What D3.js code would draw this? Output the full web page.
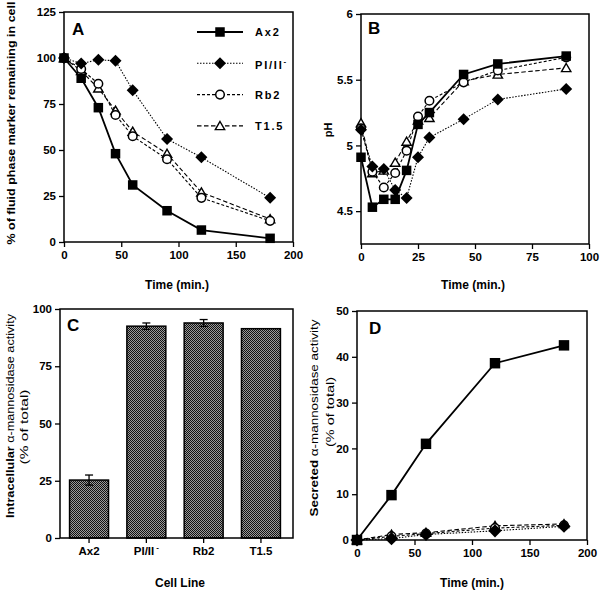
<!DOCTYPE html>
<html>
<head>
<meta charset="utf-8">
<script src="https://cdn.jsdelivr.net/npm/d3@7"></script>
<style>
  body { margin: 0; background: #fff; }
  svg { display: block; font-family: "Liberation Sans", Arial, Helvetica, sans-serif; }
  .tick text { font-size: 11.5px; font-weight: bold; fill: #000; }
  .tick line { stroke: #000; stroke-width: 1.3; }
</style>
</head>
<body>
<svg id="fig" width="602" height="592"></svg>
<script>
// --- panel A: fluid phase marker remaining (%)
const timeA = [0, 15, 30, 45, 60, 90, 120, 180];
const ax2A = [100, 89, 73, 48, 31, 17, 6.5, 2];
const pi2A = [100, 97, 99, 98.5, 82.5, 56, 46, 24];
const rb2A = [100, 94, 86, 69, 57.5, 45, 24, 11.5];
const t15A = [100, 93, 83.5, 71.5, 60, 48, 27, 12.5];

// --- panel B: pH
const timeB = [0, 5, 10, 15, 20, 25, 30, 45, 60, 90];
const ax2B = [4.91, 4.53, 4.59, 4.59, 4.81, 5.16, 5.25, 5.54, 5.62, 5.68];
const pi2B = [5.12, 4.84, 4.82, 4.66, 4.60, 4.91, 5.06, 5.20, 5.35, 5.43];
const rb2B = [5.13, 4.80, 4.68, 4.79, 4.96, 5.22, 5.34, 5.48, 5.57, 5.67];
const t15B = [5.17, 4.79, 4.81, 4.87, 5.03, 5.19, 5.21, 5.49, 5.54, 5.59];

// --- panel C: intracellular alpha-mannosidase
const cellLines = ["Ax2", "PI/II", "Rb2", "T1.5"];
const intracellular = [25.3, 92.5, 93.9, 91.4];
const intracellularErr = [2.2, 1.4, 1.5, 0];

// --- panel D: secreted alpha-mannosidase
const timeD = [0, 30, 60, 120, 180];
const ax2D = [0, 9.8, 21, 38.6, 42.5];
const pi2D = [0, 0.3, 1.2, 2.0, 3.0];
const rb2D = [0, 0.8, 1.4, 2.6, 3.2];
const t15D = [0, 1.2, 1.6, 3.1, 3.5];

const svg = d3.select('#fig');

const styles = {
  ax2: { dash: null, width: 1.8, marker: 'square' },
  pi2: { dash: '1.5,1.5', width: 1.1, marker: 'diamond' },
  rb2: { dash: '3,2', width: 1.1, marker: 'circle' },
  t15: { dash: '4.5,2.5', width: 1.1, marker: 'triangle' }
};

function drawMarker(g, kind, x, y, big) {
  const s = big ? 1.1 : 1;
  if (kind === 'square') {
    const w = 9.5 * s;
    g.append('rect').attr('x', x - w / 2).attr('y', y - w / 2)
      .attr('width', w).attr('height', w).attr('fill', '#000');
  } else if (kind === 'diamond') {
    const r = 6 * s;
    g.append('path').attr('d', `M${x},${y - r}L${x + r},${y}L${x},${y + r}L${x - r},${y}Z`)
      .attr('fill', '#000');
  } else if (kind === 'circle') {
    g.append('circle').attr('cx', x).attr('cy', y).attr('r', 4.3)
      .attr('fill', '#fff').attr('stroke', '#000').attr('stroke-width', 1.5);
  } else {
    g.append('path').attr('d', d3.symbol().type(d3.symbolTriangle).size(38)())
      .attr('transform', `translate(${x},${y + 1})`)
      .attr('fill', '#fff').attr('stroke', '#000').attr('stroke-width', 1.4);
  }
}

function frame(x0, y0, x1, y1) {
  svg.append('rect').attr('x', x0).attr('y', y0)
    .attr('width', x1 - x0).attr('height', y1 - y0)
    .attr('fill', 'none').attr('stroke', '#000').attr('stroke-width', 1.5);
}

function axes(x, y, xTicks, yTicks, yFmt, xIsBand) {
  const xa = xIsBand ? d3.axisBottom(x).tickSize(5).tickPadding(4)
                     : d3.axisBottom(x).tickValues(xTicks).tickSize(5).tickPadding(4);
  svg.append('g').attr('transform', `translate(0,${y.range()[0]})`)
    .call(xa).call(g => g.select('.domain').remove());
  svg.append('g').attr('transform', `translate(${x.range()[0]},0)`)
    .call(d3.axisLeft(y).tickValues(yTicks).tickFormat(yFmt || d3.format('')).tickSize(5).tickPadding(3))
    .call(g => g.select('.domain').remove());
}

function label(txt, x, y, opts) {
  const t = svg.append('text').attr('x', x).attr('y', y)
    .attr('text-anchor', 'middle')
    .attr('font-size', (opts && opts.size) || 12)
    .attr('font-weight', (opts && opts.weight) || 'bold')
    .text(txt);
  if (opts && opts.rotate) t.attr('transform', `rotate(-90,${x},${y})`);
  if (opts && opts.len) t.attr('textLength', opts.len).attr('lengthAdjust', 'spacingAndGlyphs');
  return t;
}

function linePanel(x, y, xs, series, big) {
  const g = svg.append('g');
  series.forEach(([vals, key]) => {
    const st = styles[key];
    const line = d3.line().x((d, i) => x(xs[i])).y(d => y(d));
    g.append('path').datum(vals).attr('d', line)
      .attr('fill', 'none').attr('stroke', '#000')
      .attr('stroke-width', st.width)
      .attr('stroke-dasharray', st.dash);
  });
  series.forEach(([vals, key]) => {
    vals.forEach((v, i) => drawMarker(g, styles[key].marker, x(xs[i]), y(v), big));
  });
}

// ---------- A
const xA = d3.scaleLinear().domain([0, 200]).range([64, 293]);
const yA = d3.scaleLinear().domain([0, 125]).range([242, 12]);
axes(xA, yA, [0, 50, 100, 150, 200], [0, 25, 50, 75, 100, 125]);
frame(64, 12, 293, 242);
linePanel(xA, yA, timeA, [[t15A, 't15'], [rb2A, 'rb2'], [pi2A, 'pi2'], [ax2A, 'ax2']]);
svg.append('text').attr('x', 72).attr('y', 35).attr('font-size', 17).attr('font-weight', 'bold').text('A');
label('Time  (min.)', 177, 289);
label('% of fluid phase marker remaining in cell', 15, 123, { rotate: true, len: 243, size: 11 });

// legend
const legendRows = [['ax2', 'Ax2'], ['pi2', 'PI/II'], ['rb2', 'Rb2'], ['t15', 'T1.5']];
legendRows.forEach(([key, name], i) => {
  const ly = 32 + i * 31.3;
  const st = styles[key];
  svg.append('line').attr('x1', 197).attr('x2', 243).attr('y1', ly).attr('y2', ly)
    .attr('stroke', '#000').attr('stroke-width', st.width).attr('stroke-dasharray', st.dash);
  drawMarker(svg, st.marker, 220, ly);
  const t = svg.append('text').attr('x', 255).attr('y', ly + 4 + (key === 'pi2' ? 2 : 0))
    .attr('font-size', 11).attr('font-weight', 'bold').attr('letter-spacing', 1.8).text(name);
  if (key === 'pi2') t.append('tspan').attr('dy', -5).attr('font-size', 8).text('-');
});

// ---------- B
const xB = d3.scaleLinear().domain([0, 100]).range([361, 589]);
const yB = d3.scaleLinear().domain([4.25, 6]).range([244, 14]);
axes(xB, yB, [0, 25, 50, 75, 100], [4.5, 5, 5.5, 6]);
frame(361, 14, 589, 244);
linePanel(xB, yB, timeB, [[t15B, 't15'], [rb2B, 'rb2'], [pi2B, 'pi2'], [ax2B, 'ax2']]);
svg.append('text').attr('x', 368).attr('y', 34).attr('font-size', 17).attr('font-weight', 'bold').text('B');
label('Time  (min.)', 473, 289);
label('pH', 332, 130, { rotate: true, size: 11 });

// ---------- C
const xC = d3.scaleBand().domain(cellLines).range([60, 290]).paddingInner(0.32).paddingOuter(0.167);
const yC = d3.scaleLinear().domain([0, 100]).range([538, 309]);
const defs = svg.append('defs');
const pat = defs.append('pattern').attr('id', 'stipple').attr('width', 2).attr('height', 2)
  .attr('patternUnits', 'userSpaceOnUse');
pat.append('rect').attr('width', 2).attr('height', 2).attr('fill', '#9a9a9a');
pat.append('rect').attr('width', 1).attr('height', 1).attr('fill', '#111');
pat.append('rect').attr('x', 1).attr('y', 1).attr('width', 1).attr('height', 1).attr('fill', '#111');

svg.append('g').selectAll('rect').data(cellLines).join('rect')
  .attr('x', d => xC(d)).attr('width', xC.bandwidth())
  .attr('y', (d, i) => yC(intracellular[i]))
  .attr('height', (d, i) => yC(0) - yC(intracellular[i]))
  .attr('fill', 'url(#stipple)').attr('stroke', '#000').attr('stroke-width', 1.5);

cellLines.forEach((d, i) => {
  const e = intracellularErr[i];
  if (!e) return;
  const cx = xC(d) + xC.bandwidth() / 2;
  const hi = yC(intracellular[i] + e), lo = yC(intracellular[i] - e);
  svg.append('line').attr('x1', cx).attr('x2', cx).attr('y1', hi).attr('y2', lo)
    .attr('stroke', '#000').attr('stroke-width', 1.3);
  [hi, lo].forEach(yy => svg.append('line').attr('x1', cx - 4).attr('x2', cx + 4)
    .attr('y1', yy).attr('y2', yy).attr('stroke', '#000').attr('stroke-width', 1.3));
});

axes(xC, yC, null, [0, 25, 50, 75, 100], null, true);
frame(60, 309, 293, 538);
svg.selectAll('.tick text').filter(d => d === 'PI/II')
  .append('tspan').attr('dy', -5).attr('dx', 2).attr('font-size', 8).text('-');
svg.append('text').attr('x', 67).attr('y', 331).attr('font-size', 17).attr('font-weight', 'bold').text('C');
label('Cell  Line', 180, 587);
const lc1 = label('', 14, 416, { rotate: true, size: 11, len: 204 });
lc1.append('tspan').attr('font-weight', 'bold').text('Intracellular ');
lc1.append('tspan').attr('font-weight', 'normal').text(' α-mannosidase  activity');
label('(% of total)', 28, 427, { rotate: true, size: 11, weight: 'normal', len: 75 });

// ---------- D
const xD = d3.scaleLinear().domain([0, 200]).range([357, 587]);
const yD = d3.scaleLinear().domain([0, 50]).range([540, 311]);
axes(xD, yD, [0, 50, 100, 150, 200], [0, 10, 20, 30, 40, 50]);
frame(357, 311, 587, 540);
linePanel(xD, yD, timeD, [[t15D, 't15'], [rb2D, 'rb2'], [pi2D, 'pi2'], [ax2D, 'ax2']], true);
svg.append('text').attr('x', 369).attr('y', 334).attr('font-size', 17).attr('font-weight', 'bold').text('D');
label('Time  (min.)', 472, 587);
const ld1 = label('', 318, 418, { rotate: true, size: 11, len: 197 });
ld1.append('tspan').attr('font-weight', 'bold').text('Secreted  ');
ld1.append('tspan').attr('font-weight', 'normal').text(' α-mannosidase  activity');
label('(% of total)', 334, 412, { rotate: true, size: 11, weight: 'normal', len: 70 });
</script>
</body>
</html>
